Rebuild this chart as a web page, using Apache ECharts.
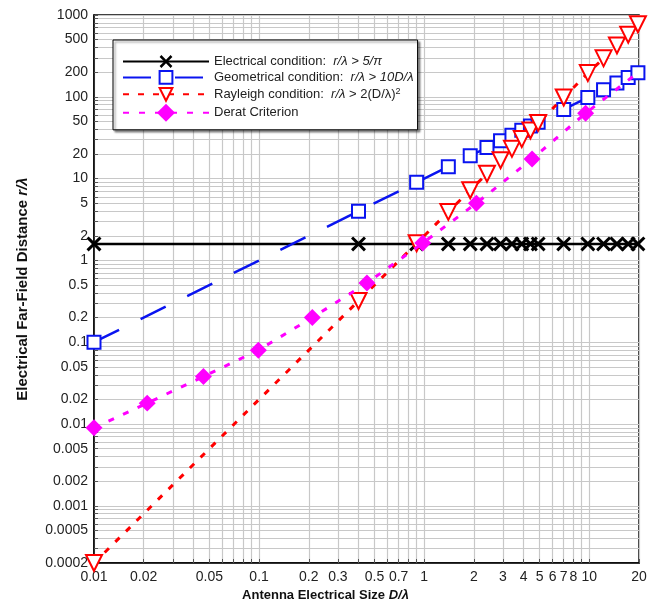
<!DOCTYPE html>
<html>
<head>
<meta charset="utf-8">
<script src="https://cdn.jsdelivr.net/npm/echarts@6/dist/echarts.min.js"></script>
<style>
html,body{margin:0;padding:0;background:#fff;}
#chart{width:658px;height:607px;}
</style>
</head>
<body>
<div id="chart"></div>
<script>
// ---- data ----
const sizeD = [0.01, 0.4, 0.9, 1.4, 1.9, 2.4, 2.9, 3.4, 3.9, 4.4, 4.9, 7, 9.8, 12.2, 14.7, 17.2, 19.7];
const electrical = [1.59, 1.59, 1.59, 1.59, 1.59, 1.59, 1.59, 1.59, 1.59, 1.59, 1.59, 1.59, 1.59, 1.59, 1.59, 1.59, 1.59];
const geometrical = [0.1, 4, 9, 14, 19, 24, 29, 34, 39, 44, 49, 70, 98, 122, 147, 172, 197];
const rayleigh = [0.0002, 0.32, 1.62, 3.92, 7.22, 11.5, 16.8, 23.1, 30.4, 38.7, 48, 98, 195, 295, 425, 575, 770];
const deratD = [0.01, 0.021, 0.046, 0.099, 0.21, 0.45, 0.98, 2.07, 4.5, 9.5, 19.7];
const derat = [0.009, 0.018, 0.038, 0.08, 0.2, 0.53, 1.63, 5.0, 17.4, 63, 197];

const xTickLabels = [0.01, 0.02, 0.05, 0.1, 0.2, 0.3, 0.5, 0.7, 1, 2, 3, 4, 5, 6, 7, 8, 10, 20];
const yTickLabels = [0.0002, 0.0005, 0.001, 0.002, 0.005, 0.01, 0.02, 0.05, 0.1, 0.2, 0.5, 1, 2, 5, 10, 20, 50, 100, 200, 500, 1000];

const seriesNames = ['Electrical condition', 'Geometrical condition', 'Rayleigh condition', 'Derat Criterion'];
const legendText = {
  'Electrical condition': 'Electrical condition:  {i|r/λ > 5/π}',
  'Geometrical condition': 'Geometrical condition:  {i|r/λ > 10D/λ}',
  'Rayleigh condition': 'Rayleigh condition:  {i|r/λ} > 2(D/λ){s|2}',
  'Derat Criterion': 'Derat Criterion'
};

// log grid positions (1..9 x 10^k) inside the axis ranges
function logGrid(lo, hi) {
  const out = [];
  for (let e = -5; e <= 4; e++) {
    for (let m = 1; m <= 9; m++) {
      const v = Number((m * Math.pow(10, e)).toPrecision(6));
      if (v >= lo - 1e-12 && v <= hi + 1e-12) out.push(v);
    }
  }
  return out;
}
const xGrid = logGrid(0.01, 10).concat([20]);
const yGrid = logGrid(0.0002, 1000);

const fmt = v => String(Number(Number(v).toPrecision(6)));
const pair = (xs, ys) => xs.map((x, i) => [x, ys[i]]);

const xMark = 'path://M0 14L14 0L50 36L86 0L100 14L64 50L100 86L86 100L50 64L14 100L0 86L36 50Z';

const deratData = pair(deratD, derat).map((p, i, a) => i === a.length - 1 ? {value: p, symbol: 'none'} : p);

const chart = echarts.init(document.getElementById('chart'), null, {renderer: 'canvas'});
chart.setOption({
  animation: false,
  backgroundColor: '#fff',
  grid: {left: 94, right: 19, top: 15, bottom: 44, show: true, borderColor: '#000', borderWidth: 1.5, backgroundColor: 'transparent'},
  legend: {
    data: seriesNames,
    orient: 'vertical',
    left: 113, top: 40,
    itemWidth: 86, itemHeight: 16, itemGap: 2,
    padding: [15, 4, 8, 9],
    borderColor: '#000', borderWidth: 1, backgroundColor: '#fff',
    shadowColor: 'rgba(0,0,0,0.45)', shadowBlur: 2, shadowOffsetX: 2, shadowOffsetY: 2,
    formatter: n => legendText[n],
    textStyle: {fontFamily: 'Liberation Sans', fontSize: 13, color: '#222',
      rich: {
        i: {fontStyle: 'italic', fontFamily: 'Liberation Sans', fontSize: 13, color: '#222'},
        s: {fontFamily: 'Liberation Sans', fontSize: 9, color: '#222', verticalAlign: 'top', padding: [0, 0, 6, 0]}
      }}
  },
  xAxis: {
    type: 'log', logBase: 10, min: 0.01, max: 20,
    name: 'Antenna Electrical Size {i|D/λ}', nameLocation: 'middle', nameGap: 25,
    nameTextStyle: {fontFamily: 'Liberation Sans', fontWeight: 'bold', fontSize: 13, color: '#111', padding: [0, 82, 0, 0],
      rich: {i: {fontFamily: 'Liberation Sans', fontWeight: 'bold', fontStyle: 'italic', fontSize: 13, color: '#111'}}},
    axisLine: {show: true, lineStyle: {color: '#000', width: 1.5}},
    axisTick: {show: true, inside: true, length: 4, customValues: xGrid, lineStyle: {color: '#555'}},
    axisLabel: {customValues: xTickLabels, formatter: fmt, fontFamily: 'Liberation Sans', fontSize: 14, color: '#222', margin: 7},
    splitLine: {show: true, lineStyle: {color: '#c8c8c8', width: 1.2}},
    minorTick: {show: false}, minorSplitLine: {show: false}
  },
  yAxis: {
    type: 'log', logBase: 10, min: 0.0002, max: 1000,
    name: 'Electrical Far-Field Distance {i|r/λ}', nameLocation: 'middle', nameGap: 64,
    nameTextStyle: {fontFamily: 'Liberation Sans', fontWeight: 'bold', fontSize: 15, color: '#111',
      rich: {i: {fontFamily: 'Liberation Sans', fontWeight: 'bold', fontStyle: 'italic', fontSize: 15, color: '#111'}}},
    axisLine: {show: true, lineStyle: {color: '#000', width: 1.5}},
    axisTick: {show: true, inside: true, length: 4, customValues: yGrid, lineStyle: {color: '#555'}},
    axisLabel: {customValues: yTickLabels, formatter: fmt, fontFamily: 'Liberation Sans', fontSize: 14, color: '#222', margin: 6},
    splitLine: {show: true, lineStyle: {color: '#c8c8c8', width: 1.2}},
    minorTick: {show: false}, minorSplitLine: {show: false}
  },
  series: [
    {
      name: seriesNames[0], type: 'line', data: pair(sizeD, electrical),
      symbol: xMark, symbolSize: 15, symbolKeepAspect: true,
      itemStyle: {color: '#000'},
      lineStyle: {color: '#000', width: 2.4, type: 'solid'}, z: 3
    },
    {
      name: seriesNames[1], type: 'line', data: pair(sizeD, geometrical),
      symbol: 'emptyRect', symbolSize: 13,
      itemStyle: {color: '#0a14f0', borderWidth: 2.2},
      lineStyle: {color: '#0a14f0', width: 2.5, type: [28, 24]}, z: 4
    },
    {
      name: seriesNames[2], type: 'line', data: pair(sizeD, rayleigh),
      symbol: 'emptyTriangle', symbolRotate: 180, symbolSize: 16,
      itemStyle: {color: '#ff0000', borderWidth: 2.4},
      lineStyle: {color: '#ff0000', width: 3, type: [6, 9]}, z: 5
    },
    {
      name: seriesNames[3], type: 'line', data: deratData,
      symbol: 'rect', symbolRotate: 45, symbolSize: 12,
      itemStyle: {color: '#ff00ff'},
      lineStyle: {color: '#ff00ff', width: 3, type: [6, 10]}, z: 6
    }
  ]
});
</script>
</body>
</html>
